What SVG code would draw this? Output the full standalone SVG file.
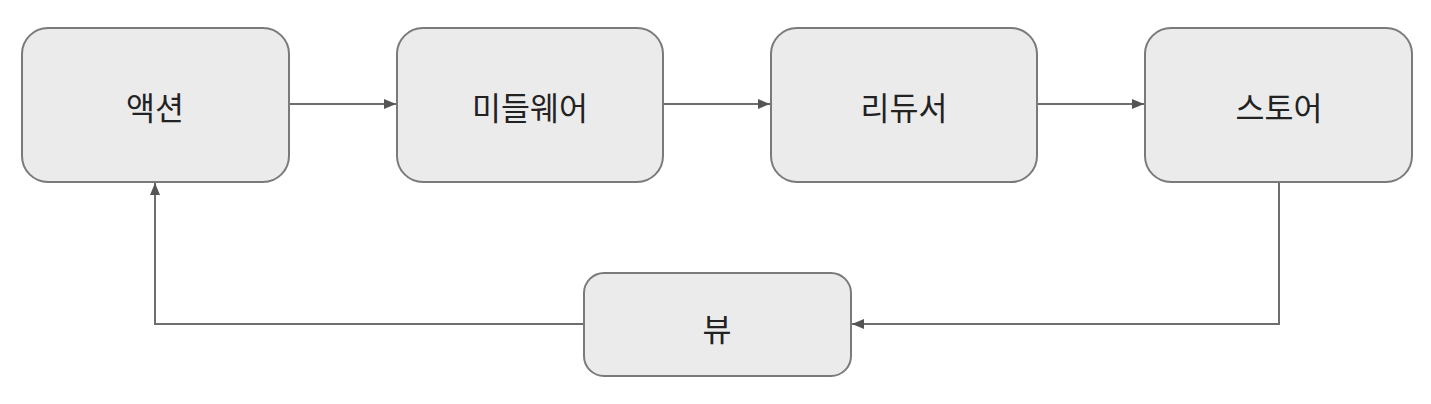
<svg xmlns="http://www.w3.org/2000/svg" width="1431" height="404" viewBox="0 0 1431 404">
<style>
.box{fill:#ebebeb;stroke:#7a7a7a;stroke-width:2}
.lbl{font-family:"Noto Sans CJK KR","Noto Sans",sans-serif;font-size:31.5px;font-weight:400;fill:#222;text-anchor:middle;dominant-baseline:central}
.edge{fill:none;stroke:#6e6e6e;stroke-width:2}
</style>
<defs>
<marker id="ah" viewBox="0 0 12 10" refX="12" refY="5" markerWidth="12" markerHeight="10" markerUnits="userSpaceOnUse" orient="auto">
<path d="M0,0 L12,5 L0,10 z" fill="#555"/>
</marker>
</defs>
<rect width="1431" height="404" fill="#fff"/>
<g id="connectors">
<line class="edge" x1="289" y1="104" x2="396" y2="104" marker-end="url(#ah)"/>
<line class="edge" x1="663" y1="104" x2="770" y2="104" marker-end="url(#ah)"/>
<line class="edge" x1="1037" y1="104" x2="1144" y2="104" marker-end="url(#ah)"/>
<polyline class="edge" points="1279,182 1279,324 852,324" marker-end="url(#ah)"/>
<polyline class="edge" points="584,324 155,324 155,183" marker-end="url(#ah)"/>
</g>
<g id="action"><rect class="box" x="22" y="28" width="267" height="154" rx="26"/><text class="lbl" x="155" y="106">액션</text></g>
<g id="middleware"><rect class="box" x="397" y="28" width="266" height="154" rx="26"/><text class="lbl" x="530" y="106">미들웨어</text></g>
<g id="reducer"><rect class="box" x="771" y="28" width="266" height="154" rx="26"/><text class="lbl" x="904" y="106">리듀서</text></g>
<g id="store"><rect class="box" x="1145" y="28" width="267" height="154" rx="26"/><text class="lbl" x="1279" y="106">스토어</text></g>
<g id="view"><rect class="box" x="584" y="273" width="267" height="103" rx="20"/><text class="lbl" x="717" y="327">뷰</text></g>
</svg>
